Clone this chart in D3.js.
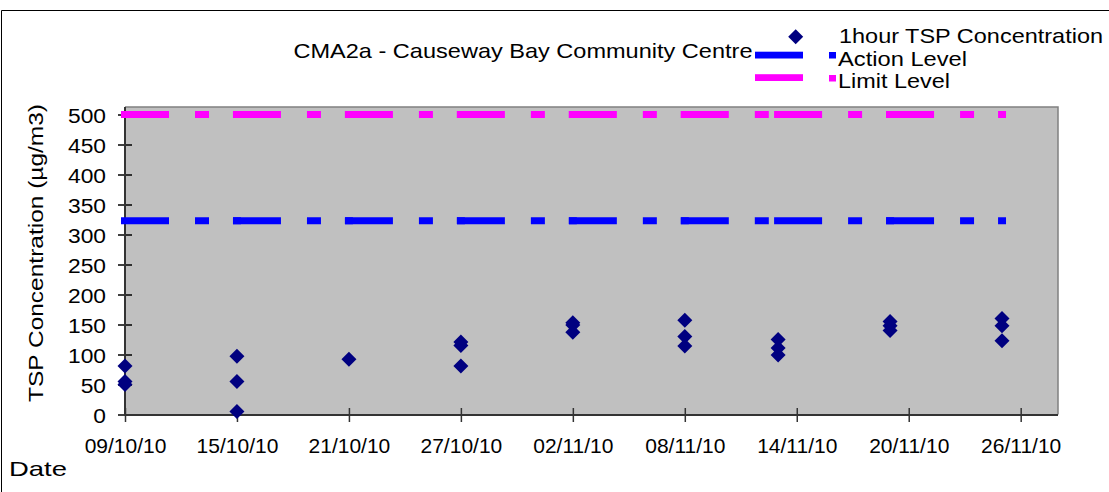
<!DOCTYPE html>
<html><head><meta charset="utf-8">
<script src="https://cdn.jsdelivr.net/npm/d3@7"></script>
<style>
body{margin:0;background:#fff}
svg{display:block}
text{font-family:"Liberation Sans",Arial,Helvetica,sans-serif;fill:#000}
</style>
</head><body>
<svg id="chart" width="1109" height="492"></svg>
<script>
// ---- data ----
const levelDates = ["2010-10-09","2010-10-15","2010-10-21","2010-10-27","2010-11-02","2010-11-08","2010-11-13","2010-11-19","2010-11-25"];
const actionLevel = [323,323,323,323,323,323,323,323,323];
const limitLevel  = [500,500,500,500,500,500,500,500,500];
const tspDates = [
  "2010-10-09","2010-10-09","2010-10-09",
  "2010-10-15","2010-10-15","2010-10-15",
  "2010-10-21",
  "2010-10-27","2010-10-27","2010-10-27",
  "2010-11-02","2010-11-02","2010-11-02",
  "2010-11-08","2010-11-08","2010-11-08",
  "2010-11-13","2010-11-13","2010-11-13",
  "2010-11-19","2010-11-19","2010-11-19",
  "2010-11-25","2010-11-25","2010-11-25"];
const tspValues = [
  81,55,50,
  97,55,5,
  92,
  121,115,81,
  153,149,137,
  157,130,114,
  125,111,99,
  155,148,140,
  160,148,123];
const xTickDates  = ["2010-10-09","2010-10-15","2010-10-21","2010-10-27","2010-11-02","2010-11-08","2010-11-14","2010-11-20","2010-11-26"];
const xTickLabels = ["09/10/10","15/10/10","21/10/10","27/10/10","02/11/10","08/11/10","14/11/10","20/11/10","26/11/10"];
const yTicks = [0,50,100,150,200,250,300,350,400,450,500];
const title = "CMA2a - Causeway Bay Community Centre";
const seriesNames = ["1hour TSP Concentration","Action Level","Limit Level"];

// ---- setup ----
const parse = d3.utcParse("%Y-%m-%d");
const svg = d3.select("#chart");
const L = 125, R = 1058, T = 107, B = 414.5;
const x = d3.scaleUtc().domain([parse("2010-10-09"), parse("2010-11-28")]).range([L, R]);
const y = d3.scaleLinear().domain([0, 512.5]).range([B, T]);

// outer frame (left & top visible)
svg.append("line").attr("x1",1.5).attr("x2",1109).attr("y1",10.5).attr("y2",10.5).attr("stroke","#000").attr("stroke-width",1);
svg.append("line").attr("x1",1.5).attr("x2",1.5).attr("y1",10.5).attr("y2",492).attr("stroke","#000").attr("stroke-width",1);

// plot area
svg.append("rect").attr("x",L).attr("y",T).attr("width",R-L).attr("height",B-T).attr("fill","#C0C0C0");
svg.append("path").attr("d",`M${L},${T}H${R}V${B}`).attr("fill","none").attr("stroke","#808080").attr("stroke-width",1.5);

// axes
const yAxis = svg.append("g").attr("transform",`translate(${L},0)`)
  .call(d3.axisLeft(y).tickValues(yTicks).tickSize(7).tickSizeOuter(0));
yAxis.select(".domain").remove();
yAxis.selectAll(".tick line").attr("x1",7).attr("stroke","#000").attr("stroke-width",1.5);
yAxis.selectAll(".tick text").attr("x",-17.5).attr("dy","0.36em")
  .attr("transform","scale(1.085,1)").style("font-size","21px").style("font-family","'Liberation Sans',Arial,sans-serif");

const xAxis = svg.append("g").attr("transform",`translate(0,${B+0.5})`)
  .call(d3.axisBottom(x).tickValues(xTickDates.map(parse)).tickFormat((d,i)=>xTickLabels[i]).tickSize(7).tickSizeOuter(0));
xAxis.select(".domain").remove();
xAxis.selectAll(".tick line").attr("y1",-7).attr("stroke","#333").attr("stroke-width",1.5);
xAxis.selectAll(".tick text").attr("y",38).attr("dy",0)
  .style("font-size","21px").style("font-family","'Liberation Sans',Arial,sans-serif");

svg.append("line").attr("x1",L).attr("x2",L).attr("y1",T).attr("y2",B+1).attr("stroke","#333").attr("stroke-width",2);
svg.append("line").attr("x1",L).attr("x2",R).attr("y1",B+0.5).attr("y2",B+0.5).attr("stroke","#333").attr("stroke-width",2);

// level lines: each segment restarts dash pattern
function drawLevel(vals, color){
  const g = svg.append("g");
  for (let i = 0; i < levelDates.length - 1; i++){
    const x0 = x(parse(levelDates[i])) - 4, x1 = x(parse(levelDates[i+1])) + 4;
    g.append("line").attr("x1",x0).attr("x2",x1)
      .attr("y1",y(vals[i])).attr("y2",y(vals[i+1]))
      .attr("stroke",color).attr("stroke-width",7)
      .attr("stroke-dasharray","48,26,14,24");
  }
}
drawLevel(actionLevel, "#0000FF");
drawLevel(limitLevel, "#FF00FF");

// points
svg.append("g").selectAll("path").data(tspValues).join("path")
  .attr("transform",(d,i)=>`translate(${x(parse(tspDates[i]))},${y(d)})`)
  .attr("d","M0,-7.5L7.5,0L0,7.5L-7.5,0Z")
  .attr("fill","#000080");

// titles
svg.append("text").attr("x",293.5).attr("y",58).attr("textLength",459).attr("lengthAdjust","spacingAndGlyphs")
  .style("font-size","21px").text(title);
svg.append("text").attr("transform","translate(42.5,253) rotate(-90)").attr("text-anchor","middle")
  .attr("textLength",298).attr("lengthAdjust","spacingAndGlyphs")
  .style("font-size","21px").text("TSP Concentration (µg/m3)");
svg.append("text").attr("x",9).attr("y",476).attr("textLength",58).attr("lengthAdjust","spacingAndGlyphs")
  .style("font-size","21px").text("Date");

// legend
const lg = svg.append("g");
lg.append("path").attr("d","M795.7,29.2L803.2,36.7L795.7,44.2L788.2,36.7Z").attr("fill","#000080");
lg.append("rect").attr("x",755).attr("y",51.7).attr("width",48).attr("height",6.8).attr("fill","#0000FF");
lg.append("rect").attr("x",829).attr("y",52).attr("width",7).attr("height",6.5).attr("fill","#0000FF");
lg.append("rect").attr("x",755).attr("y",74.2).attr("width",48).attr("height",6.8).attr("fill","#FF00FF");
lg.append("rect").attr("x",829).attr("y",75).attr("width",7).attr("height",6.5).attr("fill","#FF00FF");
lg.append("text").attr("x",839).attr("y",43.3).attr("textLength",264).attr("lengthAdjust","spacingAndGlyphs").style("font-size","21px").text(seriesNames[0]);
lg.append("text").attr("x",838).attr("y",66).attr("textLength",129).attr("lengthAdjust","spacingAndGlyphs").style("font-size","21px").text(seriesNames[1]);
lg.append("text").attr("x",838).attr("y",88.3).attr("textLength",112).attr("lengthAdjust","spacingAndGlyphs").style("font-size","21px").text(seriesNames[2]);
</script>
</body></html>
